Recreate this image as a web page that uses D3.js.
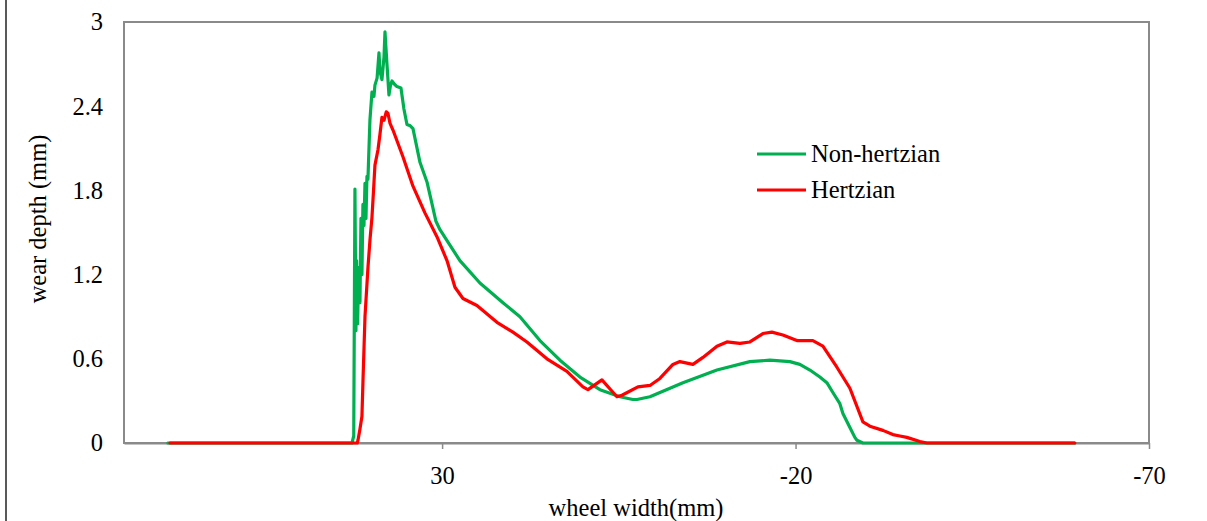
<!DOCTYPE html>
<html>
<head>
<meta charset="utf-8">
<script src="https://cdn.jsdelivr.net/npm/d3@7"></script>
<style>
  html, body { margin: 0; padding: 0; background: #fff; }
  svg { display: block; }
  text { font-family: "Liberation Serif", "Times New Roman", serif; fill: #000; }
</style>
</head>
<body>
<svg id="chart" width="1207" height="521"></svg>
<script>
// ---- Data ----
const seriesNames = ["Non-hertzian", "Hertzian"];
const seriesColors = ["#00B050", "#FF0000"];

const nonHertzianX = [68.8, 42.75, 42.5, 42.33, 42.19, 42.1, 41.95, 41.8, 41.62, 41.48, 41.34, 41.2, 41.05, 40.91, 40.77, 40.63, 40.49, 40.21, 39.92, 39.64, 39.5, 39.2, 38.93, 38.79, 38.51, 38.22, 38.08, 37.8, 37.52, 37.3, 37.09, 36.8, 36.39, 35.82, 35.4, 34.97, 34.5, 34.12, 33.13, 32.14, 31.5, 30.87, 30.3, 29.03, 27.48, 24.65, 21.39, 18.99, 16.16, 13.33, 10.5, 7.67, 4.84, 3.01, 2.44, 0.6, -4.07, -8.88, -13.54, -16.37, -19.2, -20.61, -22.03, -23.44, -24.43, -25.28, -26.27, -26.7, -27.69, -28.39, -28.68, -29.53, -59.5];
const nonHertzianY = [0, 0, 0.05, 1.81, 0.8, 1.3, 0.85, 1.25, 1.0, 1.6, 1.2, 1.7, 1.55, 1.85, 1.6, 1.9, 1.88, 2.3, 2.5, 2.47, 2.55, 2.6, 2.78, 2.65, 2.59, 2.75, 2.93, 2.7, 2.48, 2.55, 2.58, 2.56, 2.54, 2.53, 2.38, 2.27, 2.26, 2.24, 2.0, 1.86, 1.72, 1.58, 1.52, 1.42, 1.3, 1.14, 1.0, 0.9, 0.73, 0.59, 0.47, 0.38, 0.33, 0.31, 0.31, 0.33, 0.43, 0.52, 0.58, 0.59, 0.58, 0.56, 0.52, 0.47, 0.43, 0.36, 0.28, 0.21, 0.11, 0.04, 0.02, 0, 0];

const hertzianX = [68.5, 42.0, 41.9, 41.62, 41.34, 41.2, 40.91, 40.49, 40.2, 39.92, 39.7, 39.5, 39.07, 38.79, 38.51, 38.22, 37.9, 37.66, 37.38, 36.95, 35.54, 34.12, 32.43, 30.73, 29.31, 28.18, 27.05, 25.07, 22.24, 19.98, 18.0, 15.17, 12.34, 10.08, 9.37, 7.39, 5.27, 4.56, 2.3, 0.6, -0.81, -2.65, -3.64, -5.48, -6.9, -8.88, -10.29, -12.13, -13.54, -15.38, -16.65, -18.21, -20.19, -22.45, -23.87, -25.85, -27.69, -29.53, -30.52, -32.36, -33.77, -34.76, -35.75, -37.59, -38.58, -59.5];
const hertzianY = [0, 0, 0.02, 0.1, 0.19, 0.43, 0.9, 1.25, 1.45, 1.61, 1.8, 1.98, 2.09, 2.2, 2.32, 2.3, 2.36, 2.35, 2.28, 2.23, 2.04, 1.83, 1.64, 1.47, 1.3, 1.11, 1.03, 0.98, 0.86, 0.79, 0.72, 0.6, 0.51, 0.4, 0.38, 0.45, 0.33, 0.34, 0.4, 0.41, 0.46, 0.56, 0.58, 0.56, 0.61, 0.69, 0.72, 0.71, 0.72, 0.78, 0.79, 0.77, 0.73, 0.73, 0.69, 0.54, 0.39, 0.15, 0.12, 0.09, 0.06, 0.05, 0.04, 0.01, 0, 0];

const xTicks = [30, -20, -70];
const yTicks = [0, 0.6, 1.2, 1.8, 2.4, 3];
const xDomain = [75, -70];
const yDomain = [0, 3];
const xTitle = "wheel width(mm)";
const yTitle = "wear depth (mm)";

// ---- Layout ----
const FS = 24.5;
const svg = d3.select("#chart");
const plot = { left: 124, right: 1149, top: 22, bottom: 443 };

const x = d3.scaleLinear().domain(xDomain).range([plot.left, plot.right]);
const y = d3.scaleLinear().domain(yDomain).range([plot.bottom, plot.top]);

// outer frame edge (left)
svg.append("line")
  .attr("x1", 6).attr("x2", 6).attr("y1", 0).attr("y2", 521)
  .attr("stroke", "#222").attr("stroke-width", 1.5);

// plot area border
svg.append("rect")
  .attr("x", plot.left).attr("y", plot.top)
  .attr("width", plot.right - plot.left).attr("height", plot.bottom - plot.top)
  .attr("fill", "none").attr("stroke", "#8a8a8a").attr("stroke-width", 2);

// x axis
const xAxis = d3.axisBottom(x).tickValues(xTicks).tickSize(6).tickSizeOuter(0).tickFormat(d => String(d));
const gx = svg.append("g").attr("transform", `translate(0,${plot.bottom})`).call(xAxis);
gx.select(".domain").attr("stroke", "#8a8a8a").attr("stroke-width", 2);
gx.selectAll(".tick line").attr("stroke", "#8a8a8a").attr("stroke-width", 1.5);
gx.selectAll(".tick text")
  .attr("font-family", "Liberation Serif").attr("font-size", FS).attr("fill", "#000")
  .attr("dy", null).attr("y", 41);

// y axis
const yAxis = d3.axisLeft(y).tickValues(yTicks).tickSize(0).tickPadding(21).tickFormat(d => String(d));
const gy = svg.append("g").attr("transform", `translate(${plot.left},0)`).call(yAxis);
gy.select(".domain").remove();
gy.selectAll(".tick text")
  .attr("font-family", "Liberation Serif").attr("font-size", FS).attr("fill", "#000");

// axis titles
svg.append("text")
  .attr("x", 636).attr("y", 516)
  .attr("text-anchor", "middle").attr("font-size", FS)
  .text(xTitle);
svg.append("text")
  .attr("transform", "translate(46,219) rotate(-90)")
  .attr("text-anchor", "middle").attr("font-size", FS)
  .text(yTitle);

// lines
const line = d3.line().x(d => x(d[0])).y(d => y(d[1]));
const series = [
  d3.zip(nonHertzianX, nonHertzianY),
  d3.zip(hertzianX, hertzianY)
];
series.forEach((s, i) => {
  svg.append("path")
    .datum(s)
    .attr("d", line)
    .attr("fill", "none")
    .attr("stroke", seriesColors[i])
    .attr("stroke-width", 3.2)
    .attr("stroke-linejoin", "round")
    .attr("stroke-linecap", "round");
});

// legend
const legend = svg.append("g");
seriesNames.forEach((name, i) => {
  const ly = 154 + i * 36;
  legend.append("line")
    .attr("x1", 757).attr("x2", 806).attr("y1", ly).attr("y2", ly)
    .attr("stroke", seriesColors[i]).attr("stroke-width", 3.2);
  legend.append("text")
    .attr("x", 811).attr("y", ly + 8)
    .attr("font-size", FS)
    .text(name);
});
</script>
</body>
</html>
